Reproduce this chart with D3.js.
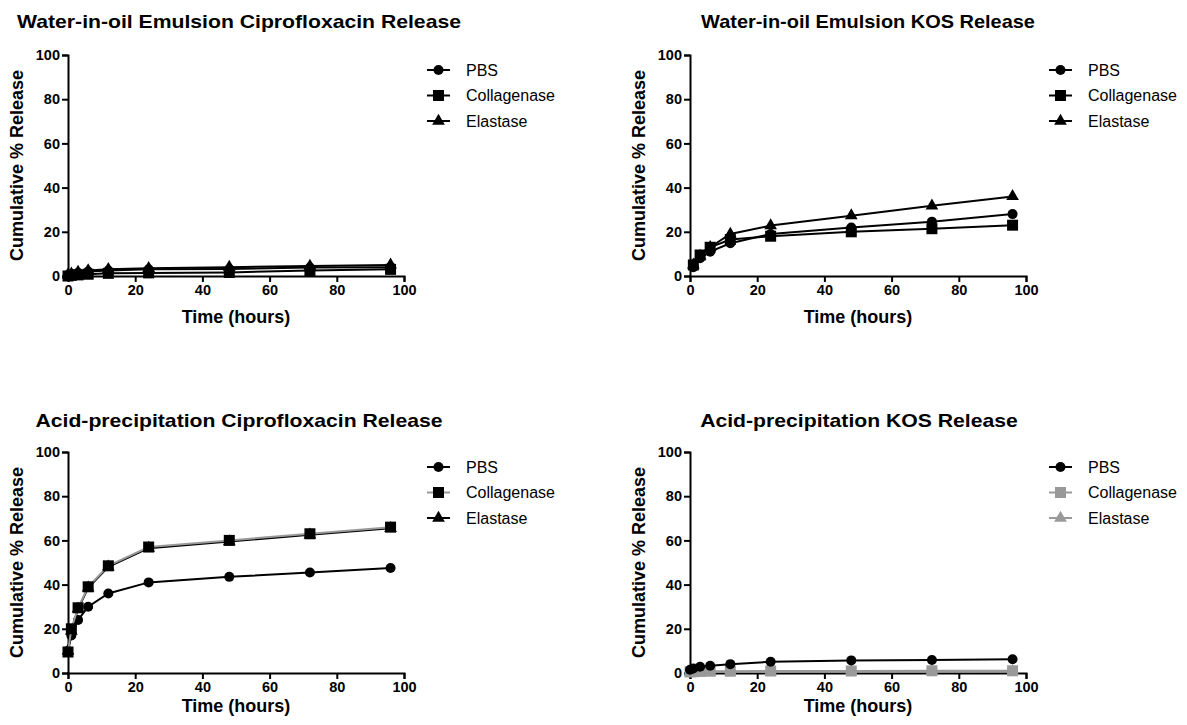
<!DOCTYPE html>
<html>
<head>
<meta charset="utf-8">
<script src="https://cdn.jsdelivr.net/npm/d3@7"></script>
<style>
  body { margin: 0; background: #fff; }
  svg { font-family: "Liberation Sans", Arial, sans-serif; }
</style>
</head>
<body>
<div class="draw-charts"></div>
<script>
// time points (hours)
const timesA = [0, 1, 3, 6, 12, 24, 48, 72, 96];
const timesKosW = [1, 3, 6, 12, 24, 48, 72, 96];

const seriesNames = ["PBS", "Collagenase", "Elastase"];

// Water-in-oil emulsion, ciprofloxacin
const wCipPBS = [0.3, 0.8, 1.5, 2, 2.5, 3, 3.2, 3.8, 4];
const wCipColl = [0, 0.3, 0.5, 0.8, 1.2, 1.4, 1.6, 2.5, 3];
const wCipEla = [0.5, 1, 1.8, 2.5, 3, 3.5, 4, 4.5, 5];

// Water-in-oil emulsion, KOS
const wKosPBS = [4, 8, 11, 14.8, 19, 21.9, 24.6, 28];
const wKosColl = [5, 9.5, 13, 16.5, 18, 20, 21.4, 23];
const wKosEla = [5, 9, 13, 19, 22.8, 27.3, 31.8, 36];

// Acid-precipitation, ciprofloxacin
const aCipPBS = [10, 17, 24, 30, 36, 41, 43.5, 45.5, 47.5];
const aCipColl = [9.5, 20, 29.5, 39, 48.5, 57, 60, 63, 66];
const aCipEla = [10, 19, 29, 38.5, 48, 56.5, 59.5, 62.5, 65.5];

// Acid-precipitation, KOS
const aKosPBS = [1.5, 2, 2.8, 3.3, 4, 5.1, 5.7, 5.9, 6.2];
const aKosColl = [0.5, 0.6, 0.7, 0.8, 0.8, 0.9, 0.9, 1, 1];
const aKosEla = [0.3, 0.4, 0.5, 0.5, 0.6, 0.6, 0.7, 0.7, 0.8];

const xTicks = [0, 20, 40, 60, 80, 100];
const yTicks = [0, 20, 40, 60, 80, 100];

const panels = [
  { title: "Water-in-oil Emulsion Ciprofloxacin Release", left: 68, top: 55, titleX: 171, titleY: -27, titleScale: 1.115, xLabelY: 47,
    times: timesA, values: [wCipPBS, wCipColl, wCipEla],
    lineColors: ["#000", "#000", "#000"], markColors: ["#000", "#000", "#000"], order: [0, 1, 2] },
  { title: "Water-in-oil Emulsion KOS Release", left: 690, top: 55, titleX: 178, titleY: -27, titleScale: 1.05, xLabelY: 47,
    times: timesKosW, values: [wKosPBS, wKosColl, wKosEla],
    lineColors: ["#000", "#000", "#000"], markColors: ["#000", "#000", "#000"], order: [0, 1, 2] },
  { title: "Acid-precipitation Ciprofloxacin Release", left: 68, top: 452, titleX: 171, titleY: -25, titleScale: 1.115, xLabelY: 39,
    times: timesA, values: [aCipPBS, aCipColl, aCipEla],
    lineColors: ["#000", "#999", "#000"], markColors: ["#000", "#000", "#000"], order: [0, 2, 1] },
  { title: "Acid-precipitation KOS Release", left: 690, top: 452, titleX: 169, titleY: -25, titleScale: 1.115, xLabelY: 39,
    times: timesA, values: [aKosPBS, aKosColl, aKosEla],
    lineColors: ["#000", "#999", "#999"], markColors: ["#000", "#999", "#999"], order: [2, 1, 0] }
];

const width = 336, height = 221;

const svg = d3.select(".draw-charts")
  .append("svg")
  .attr("width", 1187)
  .attr("height", 725);

function marker(sel, k, color) {
  if (k === 0) {
    sel.append("circle").attr("r", 5).attr("fill", color);
  } else if (k === 1) {
    sel.append("rect").attr("x", -5.5).attr("y", -5.5).attr("width", 11).attr("height", 11).attr("fill", color);
  } else {
    sel.append("path").attr("d", d3.symbol(d3.symbolTriangle, 70)()).attr("fill", color);
  }
}

panels.forEach(function (p) {
  const g = svg.append("g").attr("transform", "translate(" + p.left + "," + p.top + ")");

  const x = d3.scaleLinear().domain([0, 100]).range([0, width]);
  const y = d3.scaleLinear().domain([0, 100]).range([height, 0]);

  g.append("text")
    .attr("transform", "translate(" + p.titleX + "," + p.titleY + ") scale(" + p.titleScale + ",1)")
    .attr("text-anchor", "middle")
    .attr("font-weight", "bold")
    .attr("font-size", 19)
    .text(p.title);

  // X axis
  const xa = g.append("g")
    .attr("transform", "translate(0," + height + ")")
    .call(d3.axisBottom(x).tickValues(xTicks).tickSizeOuter(0).tickSize(6).tickPadding(3));
  // Y axis
  const ya = g.append("g")
    .call(d3.axisLeft(y).tickValues(yTicks).tickSizeOuter(0).tickSize(6).tickPadding(2));
  [xa, ya].forEach(function (a) {
    a.selectAll("path, line").attr("stroke", "#000").attr("stroke-width", 2);
    a.selectAll("text").attr("font-size", 14.5).attr("font-weight", "bold").attr("fill", "#000")
      .attr("font-family", "Liberation Sans, Arial, sans-serif");
  });

  g.append("text")
    .attr("x", width / 2)
    .attr("y", height + p.xLabelY)
    .attr("text-anchor", "middle")
    .attr("font-weight", "bold")
    .attr("font-size", 18)
    .text("Time (hours)");

  g.append("text")
    .attr("transform", "translate(-45," + (height / 2) + ") rotate(-90)")
    .attr("text-anchor", "middle")
    .attr("font-weight", "bold")
    .attr("font-size", 18)
    .text("Cumulative % Release");

  const line = d3.line()
    .x(function (d) { return x(d.t); })
    .y(function (d) { return y(d.v); });

  p.order.forEach(function (k) {
    const data = p.times.map(function (t, i) { return { t: t, v: p.values[k][i] }; });
    g.append("path")
      .datum(data)
      .attr("fill", "none")
      .attr("stroke", p.lineColors[k])
      .attr("stroke-width", 2)
      .attr("d", line);
    data.forEach(function (d) {
      const m = g.append("g").attr("transform", "translate(" + x(d.t) + "," + y(d.v) + ")");
      marker(m, k, p.markColors[k]);
    });
  });

  // Legend
  const lg = g.append("g").attr("transform", "translate(" + (width + 23) + ",15)");
  seriesNames.forEach(function (name, k) {
    const row = lg.append("g").attr("transform", "translate(0," + (k * 25.5) + ")");
    row.append("line")
      .attr("x1", 0).attr("x2", 23).attr("y1", 0).attr("y2", 0)
      .attr("stroke", p.lineColors[k]).attr("stroke-width", 2);
    const m = row.append("g").attr("transform", "translate(11.5,0)");
    marker(m, k, p.markColors[k]);
    row.append("text")
      .attr("x", 39)
      .attr("y", 0)
      .attr("dy", "0.36em")
      .attr("font-size", 16)
      .text(name);
  });
});
</script>
</body>
</html>
